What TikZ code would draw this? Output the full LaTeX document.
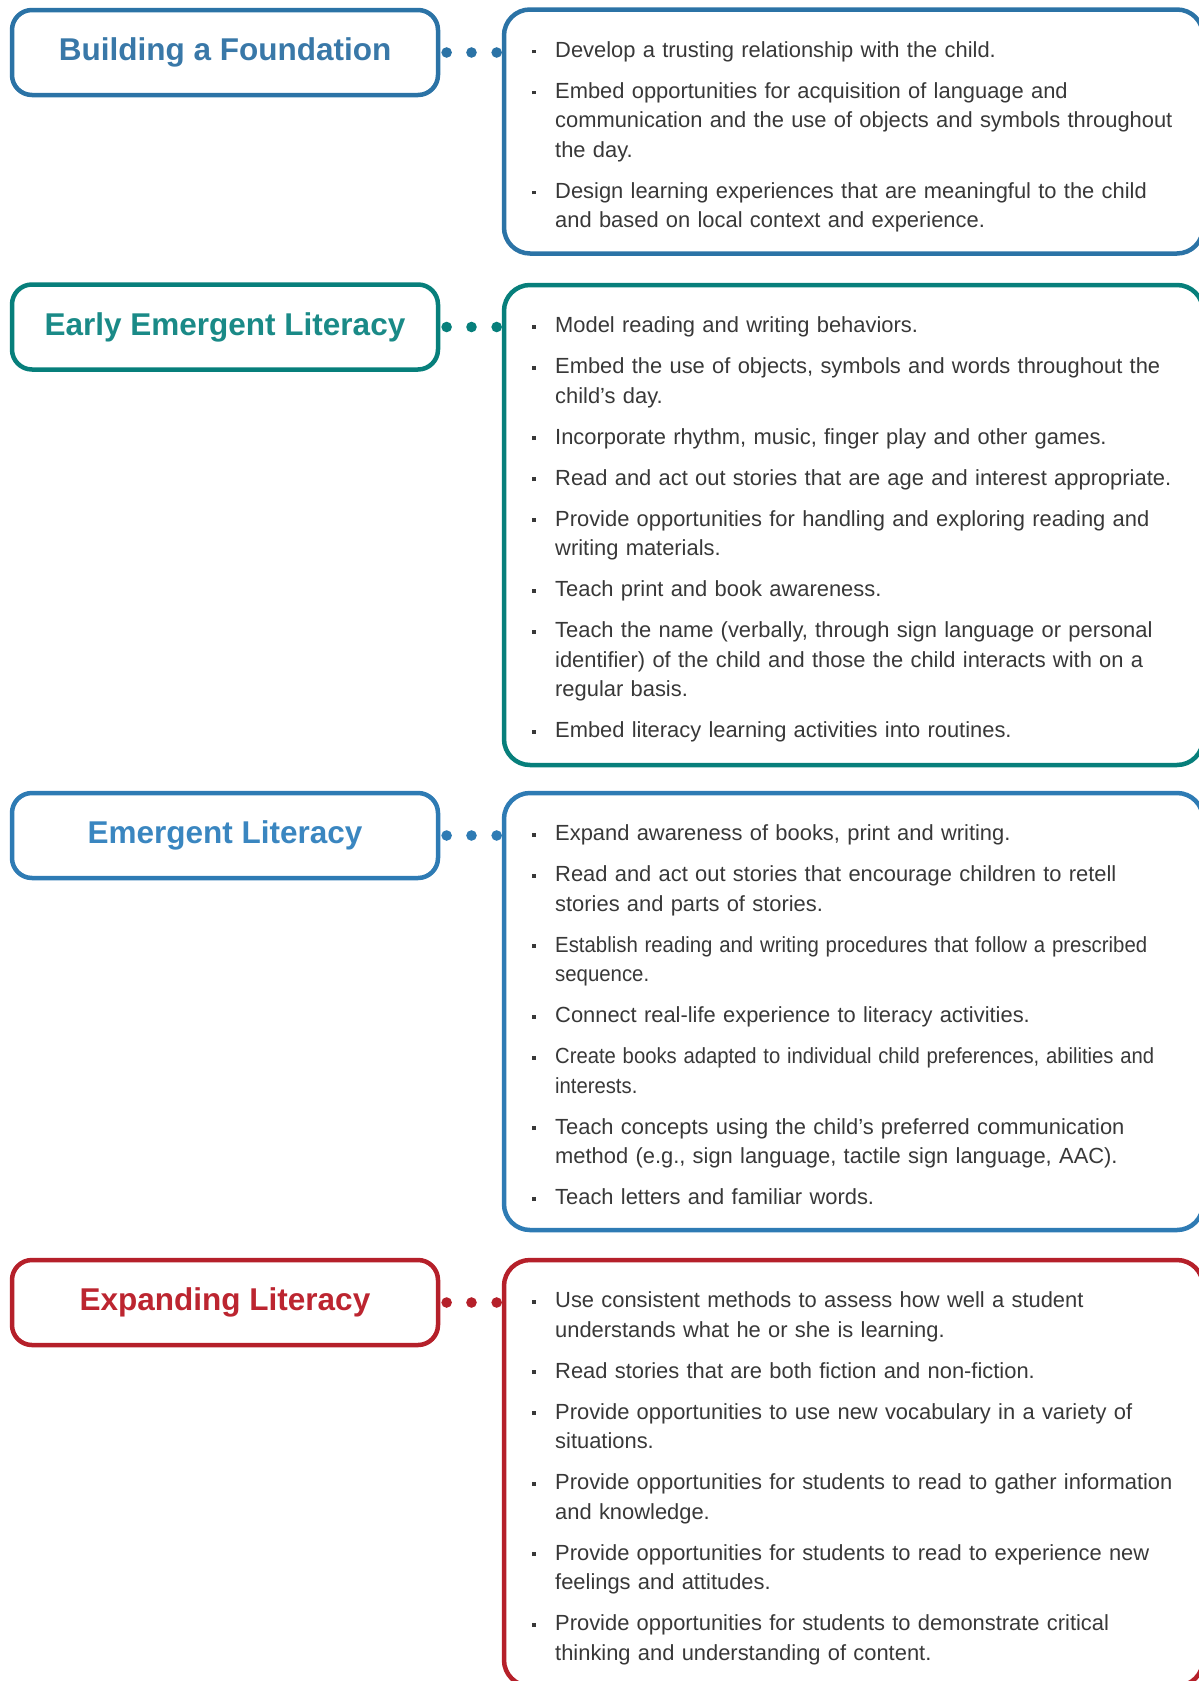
\documentclass[tikz,border=0pt]{standalone}
\usepackage{fontspec}
\usepackage{graphicx}
\setmainfont{Liberation Sans}
\newfontfamily\headfont{Liberation Sans}
\usetikzlibrary{calc}

\definecolor{fblue}{HTML}{2B73A6}
\definecolor{fbluetxt}{HTML}{3978A8}
\definecolor{eblue}{HTML}{2E7BB4}
\definecolor{ebluetxt}{HTML}{3A86C0}
\definecolor{fteal}{HTML}{077F7B}
\definecolor{ftealtxt}{HTML}{1A8A87}
\definecolor{fred}{HTML}{B5202A}
\definecolor{fredtxt}{HTML}{BC2530}
\definecolor{bodygrey}{HTML}{383838}

\newcommand{\sq}{\leavevmode\llap{\rule[4pt]{3.8pt}{3.8pt}\hspace{19pt}}}

\begin{document}
\begin{tikzpicture}[x=1pt,y=-1pt,
  titlebox/.style={draw, line width=4.5pt, rounded corners=20pt, minimum width=426pt, minimum height=85pt, font=\headfont\bfseries\fontsize{31.5}{36}\selectfont},
  listbox/.style={draw, line width=4.5pt, rounded corners=26pt, minimum width=699pt, outer sep=0pt, anchor=north west},
  points/.style={anchor=base west, inner sep=0pt, text width=700pt, align=left, text=bodygrey, font=\fontsize{21.9}{29.5}\selectfont}]

 \useasboundingbox (0,0) rectangle (1199,1681);
 \clip (0,0) rectangle (1199,1681);

 % stage titles
 \node[titlebox, draw=fblue, text=fbluetxt] (t1) at (225,52.5) {Building a Foundation};
 \node[titlebox, draw=fteal, text=ftealtxt] (t2) at (225,327) {Early Emergent Literacy};
 \node[titlebox, draw=eblue, text=ebluetxt] (t3) at (225,835.5) {Emergent Literacy};
 \node[titlebox, draw=fred, text=fredtxt] (t4) at (225,1302.5) {Expanding Literacy};

 % boxes with the strategies
 \node[listbox, draw=fblue, minimum height=244pt] (c1) at (504,9.5) {};
 \node[listbox, draw=fteal, minimum height=480pt] (c2) at (504,285) {};
 \node[listbox, draw=eblue, minimum height=437pt] (c3) at (504,793) {};
 \node[listbox, draw=fred, minimum height=426pt] (c4) at (504,1260) {};

 \foreach \t/\c in {1/fblue,2/fteal,3/eblue,4/fred} {
  \foreach \p in {0.1,0.49,0.885}
   \fill[\c] ($(t\t.east)!\p!(t\t.east -| c\t.west)$) circle (5.3pt);
 }

 \node[points] (p1) at (555,57.3) {%
  \sq Develop a trusting relationship with the child.\\[11.5pt]
  \sq Embed opportunities for acquisition of language and\\
  communication and the use of objects and symbols throughout\\
  the day.\\[11.5pt]
  \sq Design learning experiences that are meaningful to the child\\
  and based on local context and experience.};

 \node[points] (p2) at (555,332.5) {%
  \sq Model reading and writing behaviors.\\[11.5pt]
  \sq Embed the use of objects, symbols and words throughout the\\
  child’s day.\\[11.5pt]
  \sq Incorporate rhythm, music, finger play and other games.\\[11.5pt]
  \sq Read and act out stories that are age and interest appropriate.\\[11.5pt]
  \sq Provide opportunities for handling and exploring reading and\\
  writing materials.\\[11.5pt]
  \sq Teach print and book awareness.\\[11.5pt]
  \sq Teach the name (verbally, through sign language or personal\\
  identifier) of the child and those the child interacts with on a\\
  regular basis.\\[11.5pt]
  \sq Embed literacy learning activities into routines.};

 \node[points] (p3) at (555,840.5) {%
  \sq Expand awareness of books, print and writing.\\[11.5pt]
  \sq Read and act out stories that encourage children to retell\\
  stories and parts of stories.\\[11.5pt]
  \sq\scalebox{0.93}[1]{Establish reading and writing procedures that follow a prescribed}\\
  \scalebox{0.93}[1]{sequence.}\\[11.5pt]
  \sq Connect real-life experience to literacy activities.\\[11.5pt]
  \sq\scalebox{0.925}[1]{Create books adapted to individual child preferences, abilities and}\\
  \scalebox{0.925}[1]{interests.}\\[11.5pt]
  \sq Teach concepts using the child’s preferred communication\\
  method (e.g., sign language, tactile sign language, AAC).\\[11.5pt]
  \sq Teach letters and familiar words.};

 \node[points] (p4) at (555,1307.5) {%
  \sq Use consistent methods to assess how well a student\\
  understands what he or she is learning.\\[11.5pt]
  \sq Read stories that are both fiction and non-fiction.\\[11.5pt]
  \sq Provide opportunities to use new vocabulary in a variety of\\
  situations.\\[11.5pt]
  \sq Provide opportunities for students to read to gather information\\
  and knowledge.\\[11.5pt]
  \sq Provide opportunities for students to read to experience new\\
  feelings and attitudes.\\[11.5pt]
  \sq Provide opportunities for students to demonstrate critical\\
  thinking and understanding of content.};
\end{tikzpicture}
\end{document}
